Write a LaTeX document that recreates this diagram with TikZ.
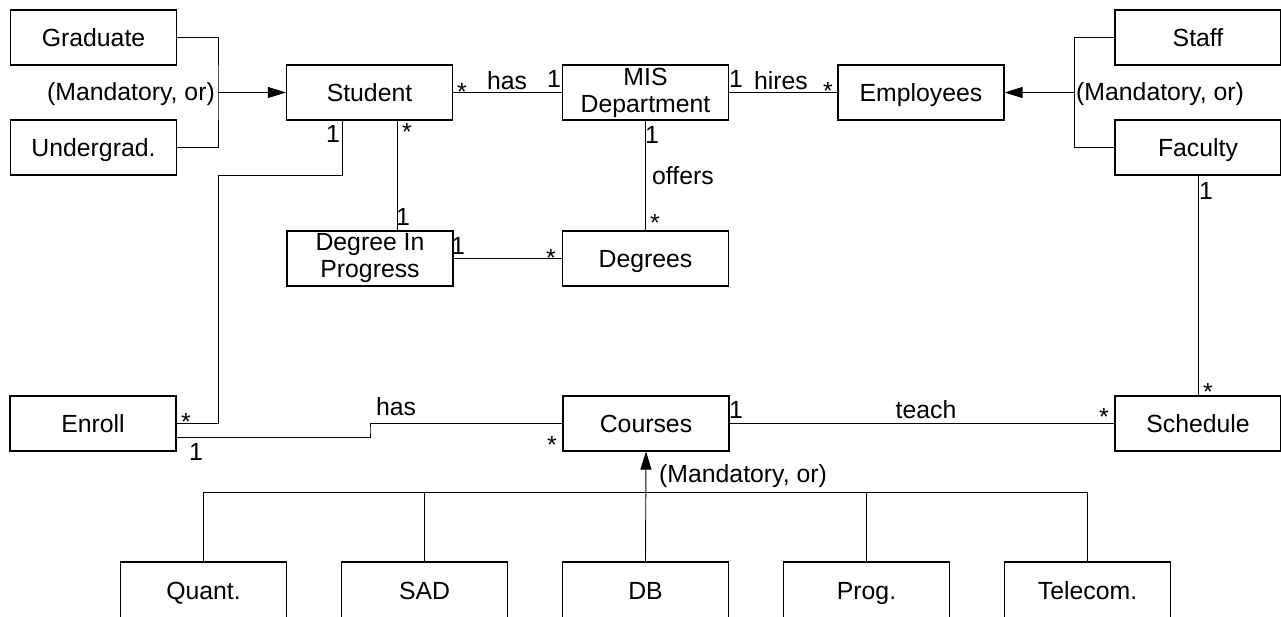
\documentclass[tikz,border=0pt]{standalone}
\usepackage{fontspec}
\setmainfont{Liberation Sans}
\usetikzlibrary{arrows.meta}
\begin{document}
\begin{tikzpicture}[x=1pt,y=-1pt,
  every node/.style={font=\fontsize{24.8}{27}\selectfont},
  box/.style={draw, line width=1.1pt, rectangle, minimum width=166pt,
    minimum height=55pt, inner sep=0pt},
  entity/.style={box, text height=17.5pt, text depth=0pt},
  entity2/.style={box, align=center},
  leaf/.style={entity, minimum height=57pt, yshift=-1pt},
  link/.style={line width=0.9pt},
  gen/.style={link, -{Triangle[length=18pt,width=11pt]}},
  mult/.style={inner sep=0pt, anchor=base}]
\clip (0,0) rectangle (1281,616);

% classes
\node[entity]  (grad)    at (93.5,37.5)   {Graduate};
\node[entity]  (ugrad)   at (93.5,147.5)  {Undergrad.};
\node[entity]  (student) at (369.5,92.5)  {Student};
\node[entity2] (mis)     at (645.5,92.5)  {MIS\\Department};
\node[entity]  (emp)     at (921,92.5)    {Employees};
\node[entity]  (staff)   at (1198,37.5)   {Staff};
\node[entity]  (faculty) at (1198,147.5)  {Faculty};
\node[entity2] (dip)     at (370,258.5)   {Degree In\\Progress};
\node[entity]  (degrees) at (645.5,258.5) {Degrees};
\node[entity]  (enroll)  at (93,423.5)    {Enroll};
\node[entity]  (courses) at (646,423.5)   {Courses};
\node[entity]  (sched)   at (1198,423.5)  {Schedule};
\node[leaf]    (quant)   at (203.5,589.5) {Quant.};
\node[leaf]    (sad)     at (424.5,589.5) {SAD};
\node[leaf]    (db)      at (645.5,589.5) {DB};
\node[leaf]    (prog)    at (866.5,589.5) {Prog.};
\node[leaf]    (tele)    at (1087.5,589.5){Telecom.};

% junction points
\coordinate (sjoin) at (218,92.5);
\coordinate (ejoin) at (1074,92.5);
\coordinate (ebend) at (218,175);
\coordinate (cbend) at (370,430);
\coordinate (bus)   at (646,492);

% generalisations
\draw[link] (grad.east) -| (sjoin) |- (ugrad.east);
\draw[gen] (sjoin) -- (student.west);
\draw[link] (staff.west) -| (ejoin) |- (faculty.west);
\draw[gen] (ejoin) -- (emp.east);
\draw[link] (quant.north) -- (quant.north |- bus) -- (tele.north |- bus) -- (tele.north);
\draw[link] (sad.north) -- (sad.north |- bus);
\draw[link] (prog.north) -- (prog.north |- bus);
\draw[gen] (db.north) -- (courses.south);

% associations
\draw[link] (student.east) -- (mis.west);
\draw[link] (mis.east) -- (emp.west);
\draw[link] (mis.south) -- (degrees.north);
\draw[link] ([xshift=27.5pt]student.south) -- ([xshift=27pt]dip.north);
\draw[link] (dip.east) -- (degrees.west);
\draw[link] ([xshift=-27.5pt]student.south) |- (ebend) |- (enroll.east);
\draw[link] ([yshift=-14pt]enroll.east) -| (cbend) |- (courses.west);
\draw[link] (courses.east) -- (sched.west);
\draw[link] (faculty.south) -- (sched.north);

% multiplicities and role names
\node[mult] (m1)  at (462,100)  {*};
\node[mult] (r1)  at (507,89)   {has};
\node[mult] (m2)  at (554,87)   {1};
\node[mult] (m3)  at (736,87)   {1};
\node[mult] (r2)  at (781,89)   {hires};
\node[mult] (m4)  at (828,99)   {*};
\node[mult] (m5)  at (652,143)  {1};
\node[mult, anchor=base west] (r3) at (652,184) {offers};
\node[mult] (m6)  at (655,231)  {*};
\node[mult] (m7)  at (458,254)  {1};
\node[mult] (m8)  at (551,266)  {*};
\node[mult] (m9)  at (333,142)  {1};
\node[mult] (m10) at (407,140)  {*};
\node[mult] (m11) at (403,225)  {1};
\node[mult] (m12) at (186,430)  {*};
\node[mult] (m13) at (196,460)  {1};
\node[mult] (r4)  at (396,415)  {has};
\node[mult] (m14) at (552,453)  {*};
\node[mult] (m15) at (736,418)  {1};
\node[mult] (r5)  at (926,418)  {teach};
\node[mult] (m16) at (1104,425) {*};
\node[mult] (m17) at (1208,400) {*};
\node[mult] (m18) at (1206,199) {1};
\node[mult, anchor=base east] (c1) at (215,100)  {(Mandatory, or)};
\node[mult, anchor=base west] (c2) at (1076,100) {(Mandatory, or)};
\node[mult, anchor=base west] (c3) at (659,482)  {(Mandatory, or)};
\end{tikzpicture}
\end{document}
